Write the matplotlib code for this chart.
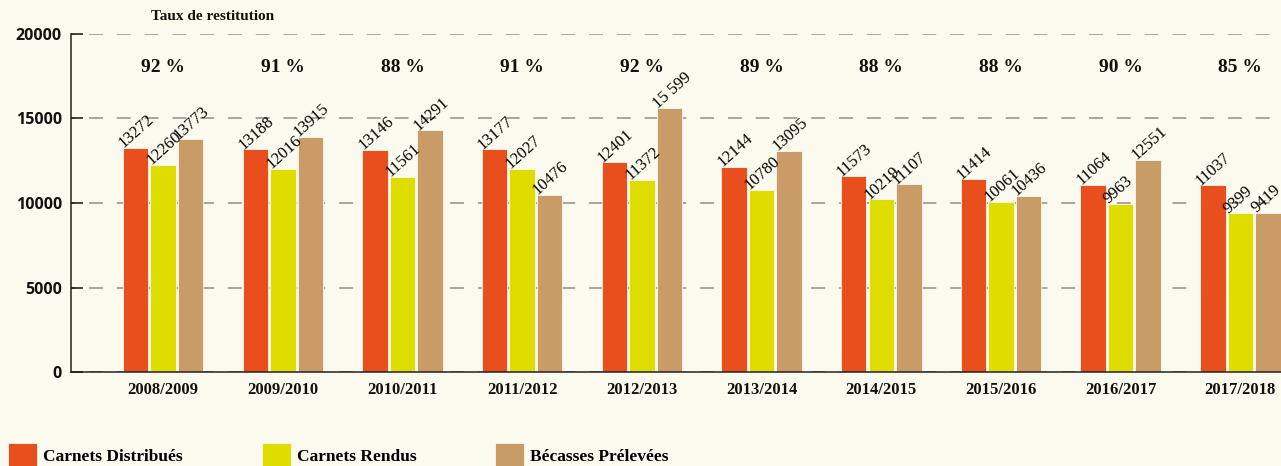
import matplotlib
matplotlib.use("Agg")
import matplotlib.pyplot as plt
import numpy as np

## data
saisons = ["2008/2009", "2009/2010", "2010/2011", "2011/2012", "2012/2013",
           "2013/2014", "2014/2015", "2015/2016", "2016/2017", "2017/2018"]
distribues = [13272, 13188, 13146, 13177, 12401, 12144, 11573, 11414, 11064, 11037]
rendus = [12260, 12016, 11561, 12027, 11372, 10780, 10219, 10061, 9963, 9399]
becasses = [13773, 13915, 14291, 10476, 15599, 13095, 11107, 10436, 12551, 9419]
taux = [92, 91, 88, 91, 92, 89, 88, 88, 90, 85]
y_ticks = [0, 5000, 10000, 15000, 20000]
label_override = {15599: "15 599"}

bg = "#FAFAEE"
c_dist = "#E84F1D"
c_rend = "#DFDC00"
c_bec = "#C99B66"

plt.rcParams["lines.scale_dashes"] = False

fig = plt.figure(figsize=(12.81, 4.66), dpi=100, facecolor=bg)
ax = fig.add_axes([71 / 1281, 94 / 466, 1 - 71 / 1281, 338 / 466], facecolor=bg)

x = np.arange(len(saisons))
w = 0.213
off = 0.23
series = [(distribues, c_dist, "Carnets Distribués"),
          (rendus, c_rend, "Carnets Rendus"),
          (becasses, c_bec, "Bécasses Prélevées")]

handles = []
for i, (vals, col, name) in enumerate(series):
    pos = x + (i - 1) * off
    b = ax.bar(pos, vals, width=w, color=col, edgecolor="#FFF8EC",
               linewidth=0.6, label=name, zorder=2)
    handles.append(b)
    for px, v in zip(pos, vals):
        ax.text(px - w / 2 + 0.03, v - 200, label_override.get(v, str(v)),
                rotation=42, rotation_mode="anchor", ha="left", va="bottom",
                fontsize=12, family="Liberation Serif", color="#000000",
                zorder=4)

# taux de restitution
for xi, t in zip(x, taux):
    ax.text(xi, 18000, f"{t} %", ha="center", va="center", fontsize=14,
            fontweight="bold", family="Liberation Serif", color="#111111")

fig.text(213 / 1281, 1 - 16 / 466, "Taux de restitution", ha="center", va="center",
         fontsize=11, fontweight="bold", family="Liberation Serif", color="#111111")

ax.set_ylim(0, 20000)
ax.set_xlim(-0.77, 9.34)
ax.set_yticks(y_ticks, labels=[str(t) for t in y_ticks], family="Open Sans",
              fontweight="bold", fontsize=11.5)
ax.set_xticks(x, labels=saisons, family="Liberation Serif", fontweight="bold",
              fontsize=12)
ax.tick_params(axis="y", direction="in", length=8.6, width=1.1, pad=6.5,
               colors="#111111")
ax.tick_params(axis="x", length=0, pad=7, colors="#111111")

ax.yaxis.grid(True, color="#8E8E8E", linewidth=1.1, linestyle=(7, (10, 10)))
ax.set_axisbelow(True)
for s in ["top", "right"]:
    ax.spines[s].set_visible(False)
for s in ["left", "bottom"]:
    ax.spines[s].set_linewidth(1.1)
    ax.spines[s].set_color("#222222")

fig.legend(handles=handles, labels=[s[2] for s in series], loc="lower left",
           bbox_to_anchor=(8 / 1281, -0.003), ncol=3, frameon=False,
           borderpad=0, borderaxespad=0, handlelength=1.67, handleheight=1.8,
           handletextpad=0.35, columnspacing=4.55,
           prop={"family": "Liberation Serif", "weight": "bold", "size": 12.5})

fig.savefig("out.png", dpi=100, facecolor=bg)
